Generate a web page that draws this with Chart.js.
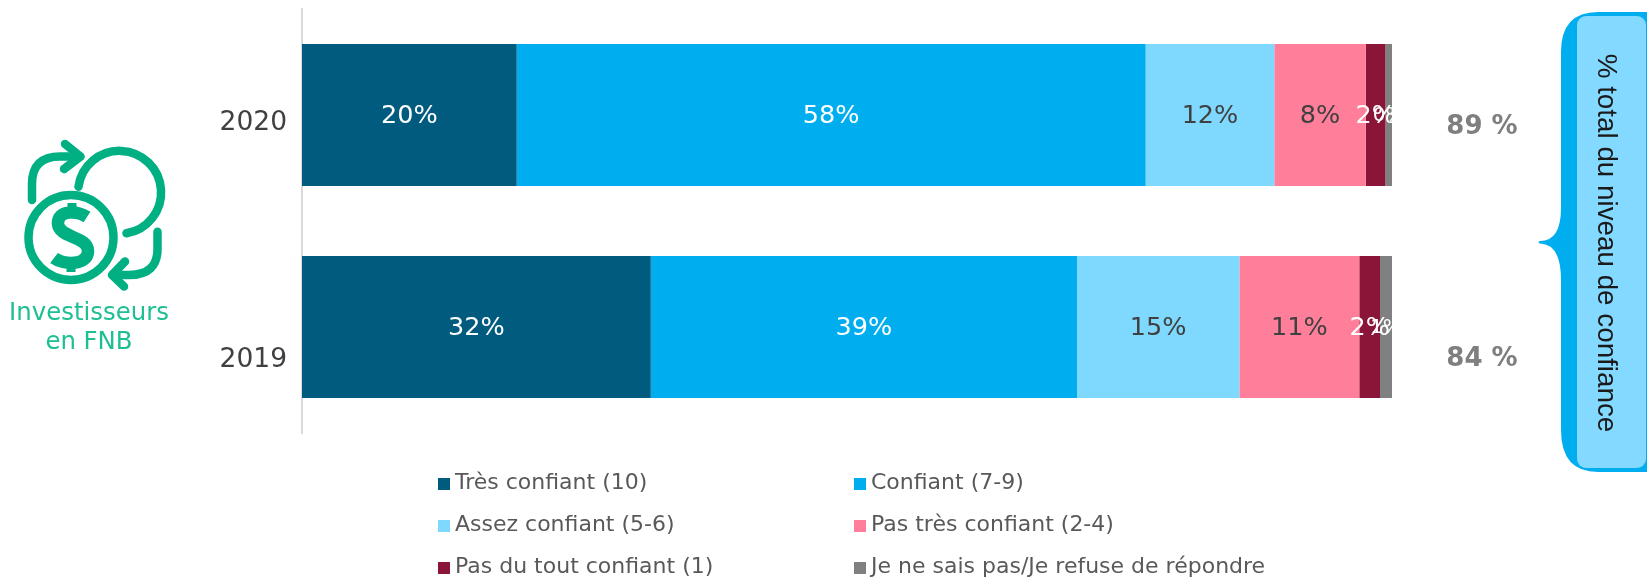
<!DOCTYPE html>
<html lang="fr"><head><meta charset="utf-8">
<style>
html,body{margin:0;padding:0;background:#fff;width:1647px;height:578px;overflow:hidden}
#wrap{position:relative;width:1647px;height:578px}
canvas{position:absolute;left:0;top:0}
svg{position:absolute;left:0;top:0}
.leg{position:absolute;font:22px "DejaVu Sans",sans-serif;color:#595959;white-space:nowrap;line-height:24px}
.sw{position:absolute;width:12px;height:12px}
</style>
<script src="https://cdn.jsdelivr.net/npm/chart.js@4"></script>
</head><body>
<div id="wrap">
<canvas id="c" width="1647" height="578"></canvas>
<svg width="1647" height="578" viewBox="0 0 1647 578">
  <g fill="none" stroke="#00B083" stroke-width="8.5" stroke-linecap="round" stroke-linejoin="round">
    <circle cx="71" cy="237.5" r="42.5"/>
    <path d="M78.5,186.7 A41.5,41.5 0 1 1 126.5,233.3"/>
    <path d="M32,200 V184 Q32,156.5 60,156.5 H80"/>
    <path d="M65,144 L80.5,156.5 L64,169"/>
    <path d="M157.5,231.7 V249 Q157.5,275 129,275 H113"/>
    <path d="M125,261.5 L112,275 L124,286.5"/>
    <path stroke-width="12.5" stroke-linecap="butt" d="M87,217 C78,211 57,209 58,224 C59,238 88,236 88,251 C88,266 63,265 54,258"/>
    <path stroke-width="9" stroke-linecap="butt" d="M72,203 V212 M71,264 V272"/>
  </g>
  <g font-family="DejaVu Sans" font-size="24.4" fill="#1FBF94" text-anchor="middle">
    <text x="89" y="320">Investisseurs</text>
    <text x="89" y="349">en FNB</text>
  </g>
  <path d="M1647,12 H1598 Q1561,12 1561,52 V208 Q1561,241 1540,241 Q1537,242 1540,243.5 Q1561,244 1561,280 V430 Q1561,472 1598,472 H1647 Z" fill="#00AEEF"/>
  <rect x="1577" y="16" width="69" height="452" rx="9" fill="#83D9FF"/>
  <text transform="translate(1598,243) rotate(90)" font-family="Liberation Sans" font-size="27.8" fill="#1a1a1a" text-anchor="middle">% total du niveau de confiance</text>
</svg>
<div id="legend"></div>
</div>
<script>
const categories = ['2020', '2019'];
const tresConfiant = [19.7, 32.0];
const confiant = [57.7, 39.1];
const assezConfiant = [11.8, 14.9];
const pasTresConfiant = [8.4, 11.0];
const pasDuTout = [1.8, 1.9];
const neSaisPas = [0.6, 1.1];
const shownLabels = [['20%','32%'],['58%','39%'],['12%','15%'],['8%','11%'],['2%','2%'],['0%','1%']];
const totals = ['89 %', '84 %'];
const seriesNames = ['Très confiant (10)','Confiant (7-9)','Assez confiant (5-6)','Pas très confiant (2-4)','Pas du tout confiant (1)','Je ne sais pas/Je refuse de répondre'];
const seriesColors = ['#005B7F','#00AEEF','#7FD9FF','#FF7F9B','#8A1538','#808080'];
const labelColors = ['#fff','#fff','#404040','#404040','#fff','#fff'];
const labelSizes = [25.5,25.5,25.5,25.5,25.5,20];
const seriesValues = [tresConfiant,confiant,assezConfiant,pasTresConfiant,pasDuTout,neSaisPas];

const overlay = {
  id:'overlay',
  afterDatasetsDraw(chart){
    const {ctx,chartArea:a} = chart;
    ctx.save();
    ctx.beginPath();ctx.rect(a.left,a.top,a.right-a.left+1,a.bottom-a.top);ctx.clip();
    ctx.textAlign='center';ctx.textBaseline='middle';
    chart.data.datasets.forEach((d,i)=>{
      chart.getDatasetMeta(i).data.forEach((bar,j)=>{
        ctx.fillStyle=labelColors[i];
        ctx.font=labelSizes[i]+'px "DejaVu Sans"';
        ctx.fillText(shownLabels[i][j],(bar.x+bar.base)/2,bar.y+1);
      });
    });
    ctx.restore();
    ctx.save();
    const yOff=[7,32];
    ctx.textBaseline='middle';
    categories.forEach((c,j)=>{
      const y=chart.scales.y.getPixelForValue(j);
      ctx.textAlign='right';ctx.fillStyle='#404040';ctx.font='26.5px "DejaVu Sans"';
      ctx.fillText(c,287,y+yOff[j]+1);
      ctx.textAlign='center';ctx.fillStyle='#7F7F7F';ctx.font='bold 26px "DejaVu Sans"';
      ctx.fillText(totals[j],1482,y+[11,31][j]+1);
    });
    ctx.restore();
  }
};

new Chart(document.getElementById('c'),{
  type:'bar',
  data:{labels:categories,datasets:seriesNames.map((n,i)=>({label:n,data:seriesValues[i],backgroundColor:seriesColors[i],borderWidth:0,barPercentage:0.67,categoryPercentage:1}))},
  options:{
    indexAxis:'y',responsive:false,animation:false,
    layout:{padding:{left:294,right:255,top:9,bottom:145}},
    plugins:{legend:{display:false},tooltip:{enabled:false}},
    scales:{
      x:{display:false,stacked:true,min:0,max:100},
      y:{stacked:true,grid:{display:false},ticks:{display:false},border:{color:'#D9D9D9',width:2}}
    }
  },
  plugins:[overlay]
});

const leg=document.getElementById('legend');
const colX=[438,854],rowY=[478,520,562];
seriesNames.forEach((n,i)=>{
  const x=colX[i%2],y=rowY[Math.floor(i/2)];
  const s=document.createElement('div');s.className='sw';s.style.left=x+'px';s.style.top=y+'px';s.style.background=seriesColors[i];leg.appendChild(s);
  const t=document.createElement('div');t.className='leg';t.textContent=n;t.style.left=(x+17)+'px';t.style.top=(y-8)+'px';leg.appendChild(t);
});
</script>
</body></html>
